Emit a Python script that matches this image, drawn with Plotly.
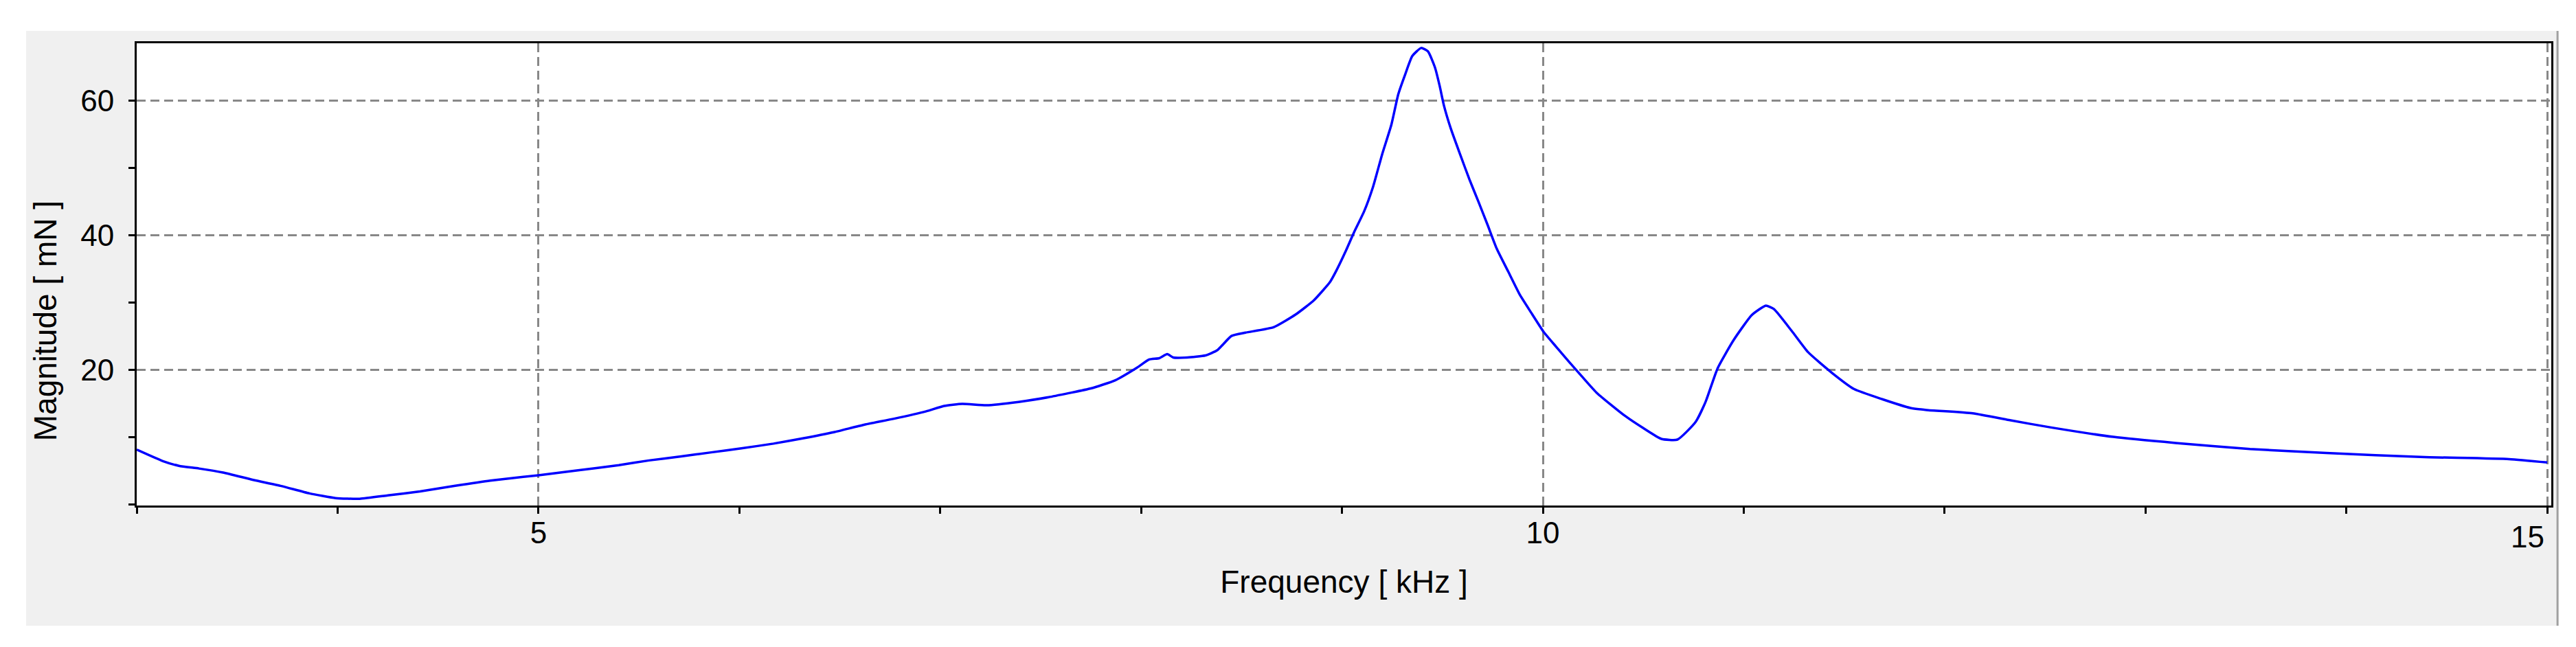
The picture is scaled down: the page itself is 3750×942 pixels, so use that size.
import plotly.graph_objects as go

# curve
freq_khz = [3.00, 3.13, 3.21, 3.31, 3.43, 3.58, 3.72, 3.86, 3.99, 4.11, 4.25, 4.41, 4.58, 4.76,
            5.00, 5.19, 5.40, 5.55, 5.71, 5.86, 6.01, 6.17, 6.32, 6.47, 6.62, 6.77, 6.93, 7.02,
            7.11, 7.23, 7.39, 7.54, 7.64, 7.75, 7.87, 7.98, 8.04, 8.09, 8.13, 8.16, 8.23, 8.32,
            8.38, 8.45, 8.52, 8.66, 8.77, 8.86, 8.94, 8.97, 9.02, 9.06, 9.11, 9.155, 9.20, 9.246,
            9.28, 9.315, 9.35, 9.394, 9.428, 9.463, 9.486, 9.508, 9.542, 9.588, 9.634, 9.68,
            9.725, 9.77, 9.827, 9.884, 9.941, 10.004, 10.066, 10.135, 10.20, 10.27, 10.41, 10.50,
            10.59, 10.67, 10.76, 10.81, 10.87, 10.95, 11.04, 11.11, 11.15, 11.24, 11.32, 11.44,
            11.55, 11.69, 11.83, 11.91, 12.14, 12.32, 12.53, 12.84, 13.15, 13.52, 13.90, 14.39,
            14.81, 15.00]
magnitude_mn = [8.1, 6.4, 5.7, 5.3, 4.7, 3.6, 2.7, 1.6, 0.9, 0.8, 1.3, 1.9, 2.7, 3.5,
                4.3, 5.0, 5.8, 6.5, 7.1, 7.7, 8.3, 9.0, 9.8, 10.7, 11.8, 12.7, 13.8, 14.6,
                14.9, 14.7, 15.2, 15.9, 16.5, 17.2, 18.4, 20.3, 21.5, 21.7, 22.3, 21.8, 21.8, 22.1,
                22.9, 25.0, 25.5, 26.3, 28.2, 30.3, 33.0, 34.6, 37.7, 40.4, 43.5, 47.2, 52.0, 56.4,
                60.9, 63.9, 66.6, 67.8, 67.3, 64.9, 62.2, 59.2, 55.8, 52.0, 48.3, 44.9,
                41.5, 38.0, 34.6, 31.2, 28.5, 25.6, 23.4, 21.0, 18.8, 16.5, 13.1, 11.3,
                9.7, 9.6, 12.2, 15.2, 20.2, 24.4, 28.1, 29.5, 29.0, 25.7, 22.6, 19.5,
                17.1, 15.6, 14.3, 14.0, 13.5, 12.5, 11.4, 10.0, 9.1, 8.2, 7.6, 7.0,
                6.7, 6.2]

x_ticks = [5, 10, 15]
x_ticktext = ["5", "10", ""]   # last label drawn separately, it sits left of its tick
last_x_label = "15"
y_ticks = [20, 40, 60]

FONT = "Liberation Sans, Arial, sans-serif"

fig = go.Figure()
fig.add_trace(go.Scatter(x=freq_khz, y=magnitude_mn, mode="lines",
                         line=dict(color="#0000ff", width=3.5, shape="spline", smoothing=0.5),
                         showlegend=False))

axis_common = dict(
    showline=True, linecolor="black", linewidth=3, mirror=True,
    ticks="outside", ticklen=9, tickwidth=3, tickcolor="black",
    showgrid=True, gridcolor="#888888", gridwidth=3, griddash="13px,7px",
    zeroline=False, tickfont=dict(family=FONT, size=44, color="black"),
)

fig.update_xaxes(range=[3, 15.02], tickvals=x_ticks, ticktext=x_ticktext, ticklabelstandoff=-10,
                 minor=dict(dtick=1, tick0=0, ticks="outside", ticklen=9, tickwidth=3,
                            tickcolor="black", showgrid=False),
                 title=dict(text="Frequency [ kHz ]", font=dict(family=FONT, size=46, color="black"),
                            standoff=33),
                 **axis_common)
fig.update_yaxes(range=[-0.2, 68.5], tickvals=y_ticks, ticktext=[str(v) for v in y_ticks],
                 ticklabelstandoff=12,
                 minor=dict(dtick=10, tick0=0, ticks="outside", ticklen=9, tickwidth=3,
                            tickcolor="black", showgrid=False),
                 **axis_common)

# grey panel behind the plot, like the app window, with a white plotting area on top
fig.add_shape(type="rect", xref="paper", yref="paper", x0=-0.0458, x1=1.0026, y0=-0.26, y1=1.0267,
              fillcolor="#f0f0f0", line=dict(width=0), layer="below")
fig.add_shape(type="rect", xref="paper", yref="paper", x0=0, x1=1, y0=0, y1=1,
              fillcolor="white", line=dict(width=0), layer="below")
fig.add_shape(type="line", xref="paper", yref="paper", x0=1.0026, x1=1.0026, y0=-0.26, y1=1.0267,
              line=dict(color="#a0a0a0", width=3))

fig.add_annotation(text=last_x_label, x=x_ticks[-1], xref="x", y=-0.067, yref="paper",
                   xanchor="right", yanchor="middle", xshift=-2, showarrow=False,
                   font=dict(family=FONT, size=44, color="black"))

fig.add_annotation(text="Magnitude [ mN ]", xref="paper", yref="paper", x=-0.038, y=0.40,
                   textangle=-90, showarrow=False, xanchor="center", yanchor="middle",
                   font=dict(family=FONT, size=46, color="black"))

fig.update_layout(
    width=3750, height=942,
    margin=dict(l=191, r=44, t=55, b=214),
    paper_bgcolor="white", plot_bgcolor="white",
)

fig.write_html("out.html")
